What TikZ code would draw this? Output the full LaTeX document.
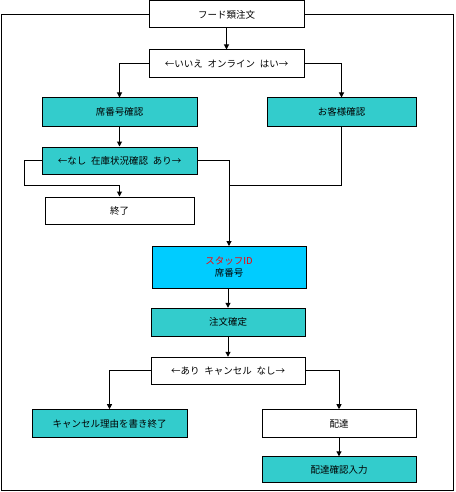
\documentclass[tikz,border=0pt]{standalone}
\usepackage{fontspec}
\setmainfont{Noto Sans CJK JP}
\usepackage{tikz}
\usetikzlibrary{arrows.meta}
\definecolor{boxteal}{HTML}{33CCCC}
\definecolor{staffblue}{HTML}{00CCFF}
\tikzset{flowbox/.style={draw, fill=white, line width=1pt, inner sep=0pt,
					minimum width=155pt, minimum height=28pt,
					font=\fontsize{9.5}{12}\selectfont},
		checkbox/.style={flowbox, fill=boxteal},
		flowline/.style={line width=1pt, -{Triangle[length=5pt,width=5pt]}},
		joinline/.style={line width=1pt}}

\begin{document}
\begin{tikzpicture}[x=1pt, y=-1pt]
					
					\useasboundingbox (0,0) rectangle (455,492);
					\draw[joinline] (1.5,14.5) rectangle (453.5,490);
					
					\node[flowbox, minimum height=27pt] (order) at (226.5,14.5) {フード類注文};
					\node[flowbox] (online) at (226.5,64) {←いいえ\enspace オンライン\enspace はい→};
					\node[checkbox] (seat) at (119.5,112) {席番号確認};
					\node[checkbox, minimum width=149pt] (guest) at (341.5,112) {お客様確認};
					\node[checkbox, minimum height=27pt] (stock) at (119.5,160.5) {←なし\enspace 在庫状況確認\enspace あり→};
					\node[flowbox, minimum width=149pt, minimum height=27pt] (finish) at (119.5,210.5) {終了};
					
					\node[flowbox, fill=staffblue, minimum width=154pt, minimum height=42pt, align=center] (staff) at (229,267.5) {{\color{red}スタッフID}\\席番号};
					\node[checkbox, minimum width=154pt] (fix) at (228,322.3) {注文確定};
					\node[flowbox, minimum width=154pt, minimum height=27pt] (cancel) at (228,370.8) {←あり\enspace キャンセル\enspace なし→};
					\node[checkbox] (reason) at (109.5,423.7) {キャンセル理由を書き終了};
					\node[flowbox, minimum width=154pt] (deliver) at (339,423.7) {配達};
					\node[checkbox, minimum width=154pt, minimum height=26pt] (record) at (339,469.8) {配達確認入力};
					
					\coordinate (nojoin) at (24,185);
					\coordinate (okjoin) at (229,185);
					
					\draw[flowline] (order) -- (online);
					\draw[flowline] (online.west) -| (seat.north);
					\draw[flowline] (online.east) -| (guest.north);
					\draw[flowline] (seat) -- (stock);
					\draw[flowline] (stock.west) -| (nojoin) -| (finish.north);
					\draw[flowline] (stock.east) -| (staff.north);
					\draw[joinline] (guest.south) |- (okjoin);
					
					\draw[flowline] (staff.south -| fix.north) -- (fix.north);
					\draw[flowline] (fix) -- (cancel);
					\draw[flowline] (cancel.west) -| (reason.north);
					\draw[flowline] (cancel.east) -| (deliver.north);
					\draw[flowline] (deliver) -- (record);
					
				\end{tikzpicture}
\end{document}
